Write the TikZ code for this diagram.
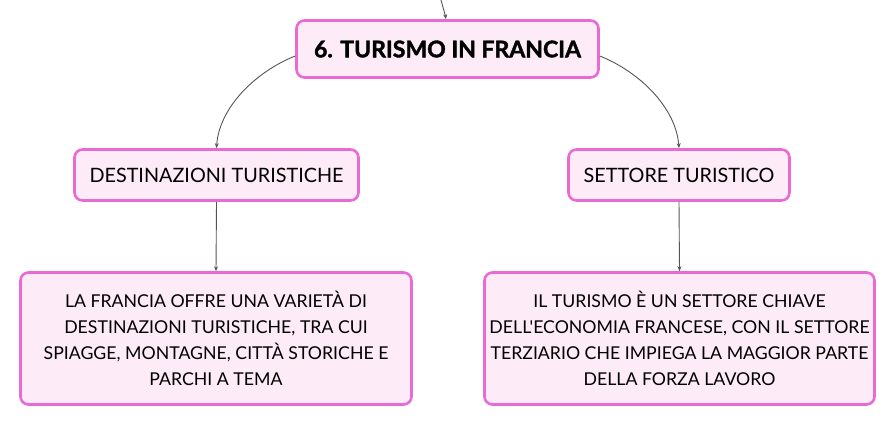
\documentclass[tikz,border=0pt]{standalone}
\usepackage{fontspec}
\setmainfont{Lato}[Ligatures=TeXOff]
\usetikzlibrary{arrows.meta}
\definecolor{pinkborder}{HTML}{E86AD2}
\definecolor{pinkfill}{HTML}{FDEBF8}
\definecolor{linkgray}{HTML}{555555}
\tikzset{
  box/.style={draw=pinkborder, fill=pinkfill, line width=2.6pt, rounded corners=8pt,
    rectangle, inner sep=0pt, align=center, text=black},
  titlebox/.style={box, minimum width=302pt, minimum height=57pt, font=\fontsize{23}{28}\selectfont\bfseries\addfontfeatures{FakeBold=1.6}},
  subbox/.style={box, minimum height=51pt, font=\fontsize{19.8}{24}\selectfont},
  textbox/.style={box, minimum height=132pt, font=\fontsize{17.7}{26}\selectfont},
  link/.style={draw=linkgray, line width=0.9pt, -{Stealth[length=5pt,width=4pt]}}
}
\begin{document}
\begin{tikzpicture}[x=1pt,y=-1pt]
\useasboundingbox (0,0) rectangle (896,426);
\coordinate (top) at (441,0);
\node[titlebox] (title) at (447.5,49) {6. TURISMO IN FRANCIA};
\node[subbox, minimum width=284pt] (dest) at (216.5,175) {DESTINAZIONI TURISTICHE};
\node[subbox, minimum width=221pt] (sett) at (679,175) {SETTORE TURISTICO};
\node[textbox, minimum width=391pt] (destt) at (216,338.5) {LA FRANCIA OFFRE UNA VARIETÀ DI\\DESTINAZIONI TURISTICHE, TRA CUI\\SPIAGGE, MONTAGNE, CITTÀ STORICHE E\\PARCHI A TEMA};
\node[textbox, minimum width=390pt] (settt) at (679.5,338.5) {IL TURISMO È UN SETTORE CHIAVE\\DELL'ECONOMIA FRANCESE, CON IL SETTORE\\TERZIARIO CHE IMPIEGA LA MAGGIOR PARTE\\DELLA FORZA LAVORO};
\draw[link] (top) .. controls (444,8) .. (title.north -| 446,0);
\draw[link] (title.west |- 0,56) .. controls (255,72) and (219,108) .. (dest.north);
\draw[link] (title.east |- 0,56) .. controls (640,72) and (676,108) .. (sett.north);
\draw[link] (dest.south) -- (destt.north);
\draw[link] (sett.south) -- (settt.north);
\end{tikzpicture}
\end{document}
